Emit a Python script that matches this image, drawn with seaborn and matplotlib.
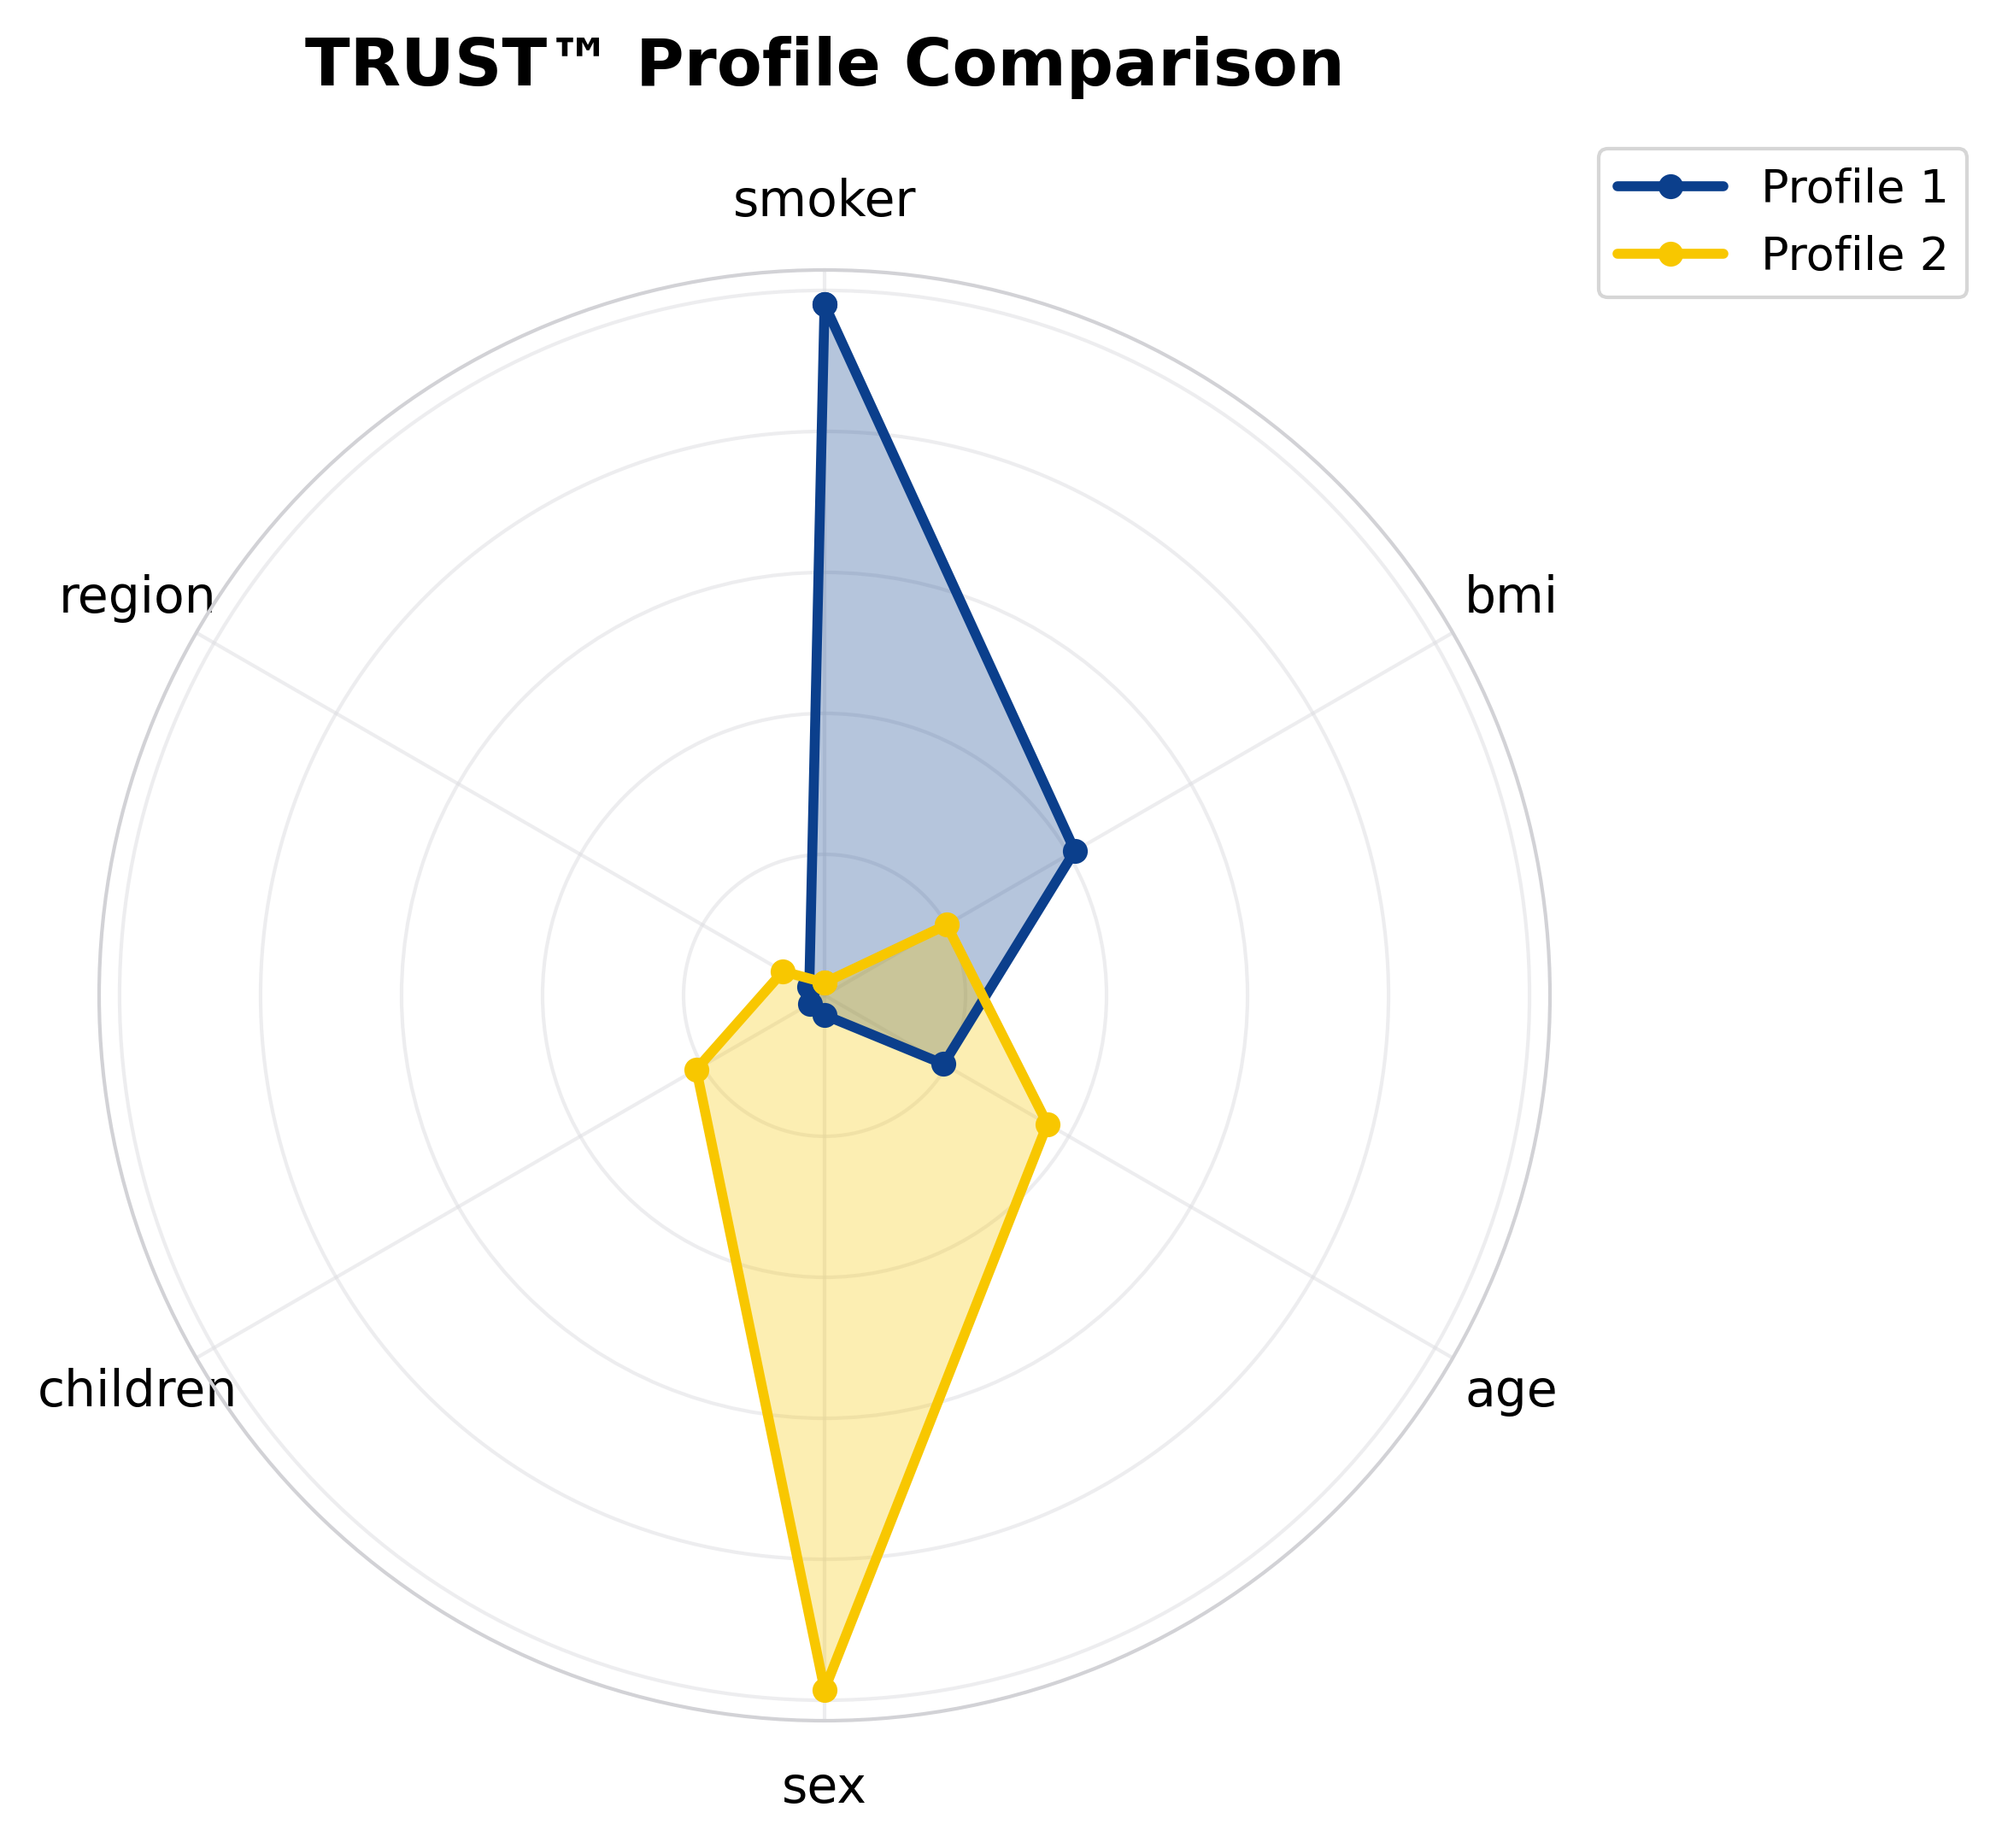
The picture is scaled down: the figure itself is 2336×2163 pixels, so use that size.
import numpy as np
import pandas as pd
import matplotlib
matplotlib.use("Agg")
import matplotlib.pyplot as plt
import seaborn as sns
from matplotlib.lines import Line2D

categories = ["smoker", "bmi", "age", "sex", "children", "region"]
profile1 = [0.98, 0.41, 0.195, 0.028, 0.024, 0.025]
profile2 = [0.018, 0.20, 0.365, 0.985, 0.21, 0.068]
series_names = ["Profile 1", "Profile 2"]
colors = ["#0b3f8c", "#f8c700"]
title = "TRUST\u2122 Profile Comparison"

sns.set_theme(style="white")
plt.rcParams["font.family"] = ["DejaVu Sans"]
plt.rcParams["text.color"] = "black"
plt.rcParams["xtick.color"] = "black"

fig = plt.figure(figsize=(2336 / 300, 2163 / 300), dpi=300)
ax = fig.add_axes([116 / 2336, 1 - 2014 / 2163, 1698 / 2336, 1698 / 2163], projection="polar")
ax.set_theta_offset(np.pi / 2)
ax.set_theta_direction(-1)

n = len(categories)
angles = np.linspace(0, 2 * np.pi, n, endpoint=False)

handles = []
for vals, name, col in zip([profile1, profile2], series_names, colors):
    a = np.concatenate([angles, angles[:1]])
    v = np.concatenate([vals, vals[:1]])
    df = pd.DataFrame({"theta": a, "r": v})
    sns.lineplot(data=df, x="theta", y="r", sort=False, ax=ax, color=col,
                 linewidth=2.8, marker="o", markersize=7, markeredgewidth=0,
                 estimator=None, legend=False)
    ax.fill(a, v, color=col, alpha=0.3, linewidth=0)
    handles.append(Line2D([], [], color=col, linewidth=2.8, marker="o", markersize=7,
                          markeredgewidth=0, label=name))

ax.set_ylim(0, 1.029)
ax.set_yticks([0.2, 0.4, 0.6, 0.8, 1.0])
ax.set_yticklabels([])
ax.set_xticks(angles)
ax.set_xticklabels(categories, fontsize=14, color="black")
ax.tick_params(axis="x", pad=6)
ax.set_xlabel("")
ax.set_ylabel("")
ax.grid(True, color="#dcdce0", linewidth=1.0, alpha=0.5)
ax.spines["polar"].set_color("#d2d2d6")
ax.spines["polar"].set_linewidth(1.0)

fig.text(965 / 2336, 1 - 100 / 2163, title, ha="center", va="baseline",
         fontsize=18.5, fontweight="bold", color="black")

leg = fig.legend(handles=handles, loc="upper left", bbox_to_anchor=(1871 / 2336, 1 - 174 / 2163),
                 bbox_transform=fig.transFigure, borderaxespad=0, fontsize=13, frameon=True,
                 edgecolor="#cccccc", handlelength=2.3)
for t in leg.get_texts():
    t.set_color("black")

fig.savefig("out.png", dpi=300, facecolor="white")
